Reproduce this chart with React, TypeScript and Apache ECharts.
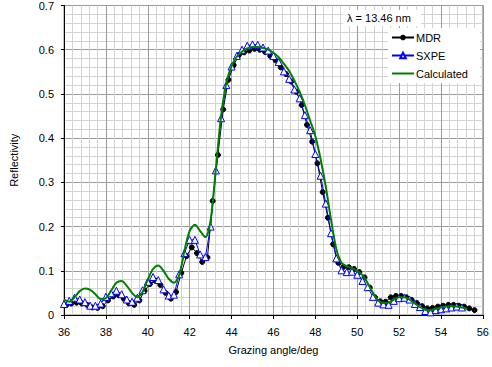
import React, { useEffect, useRef } from "react";
import * as echarts from "echarts";

// ---- Data ----
const X_TICKS_MIN = 36;
const X_TICKS_MAX = 56;
const Y_MAX = 0.7;

const SXPE_ANGLES = [
  36.0, 36.25, 36.5, 36.75, 37.0, 37.25, 37.5, 37.75, 38.0, 38.25, 38.5, 38.75, 39.0, 39.25, 39.5, 39.75,
  40.0, 40.25, 40.5, 40.75, 41.0, 41.25, 41.5, 41.75, 42.0, 42.25, 42.5, 42.75, 43.0, 43.25, 43.5, 43.75,
  44.0, 44.25, 44.5, 44.75, 45.0, 45.25, 45.5, 45.75, 46.0, 46.25, 46.5, 46.75, 47.0, 47.25, 47.5, 47.75,
  48.0, 48.25, 48.5, 48.75, 49.0, 49.25, 49.5, 49.75, 50.0, 50.25, 50.5, 50.75, 51.0, 51.25, 51.5, 51.75,
  52.0, 52.25, 52.5, 52.75, 53.0, 53.25, 53.5, 53.75, 54.0, 54.25, 54.5, 54.75, 55.0,
];
const SXPE_VALUES = [
  0.025, 0.032, 0.039, 0.035, 0.029, 0.021, 0.021, 0.026, 0.041, 0.049, 0.055, 0.047, 0.035, 0.030, 0.039, 0.056,
  0.075, 0.086, 0.079, 0.058, 0.044, 0.046, 0.092, 0.140, 0.170, 0.170, 0.137, 0.131, 0.200, 0.327, 0.445, 0.520,
  0.562, 0.586, 0.600, 0.609, 0.612, 0.611, 0.605, 0.598, 0.586, 0.572, 0.551, 0.534, 0.510, 0.490, 0.452, 0.418,
  0.364, 0.315, 0.252, 0.185, 0.128, 0.101, 0.097, 0.098, 0.091, 0.077, 0.063, 0.041, 0.028, 0.024, 0.023, 0.032,
  0.038, 0.039, 0.035, 0.025, 0.018, 0.009, 0.006, 0.011, 0.013, 0.015, 0.017, 0.019, 0.017,
];

const MDR_ANGLES = [
  36.1, 36.35, 36.6, 36.85, 37.1, 37.35, 37.6, 37.85, 38.1, 38.35, 38.6, 38.85, 39.1, 39.35, 39.6, 39.85,
  40.1, 40.35, 40.6, 40.85, 41.1, 41.35, 41.6, 41.85, 42.1, 42.35, 42.6, 42.85, 43.1, 43.35, 43.6, 43.85,
  44.1, 44.35, 44.6, 44.85, 45.1, 45.35, 45.6, 45.85, 46.1, 46.35, 46.6, 46.85, 47.1, 47.35, 47.6, 47.85,
  48.1, 48.35, 48.6, 48.85, 49.1, 49.35, 49.6, 49.85, 50.1, 50.35, 50.6, 50.85, 51.1, 51.35, 51.6, 51.85,
  52.1, 52.35, 52.6, 52.85, 53.1, 53.35, 53.6, 53.85, 54.1, 54.35, 54.6, 54.85, 55.1, 55.35, 55.6,
];
const MDR_VALUES = [
  0.022, 0.026, 0.028, 0.026, 0.023, 0.017, 0.016, 0.020, 0.033, 0.042, 0.045, 0.037, 0.026, 0.023, 0.033, 0.055,
  0.070, 0.078, 0.068, 0.050, 0.037, 0.052, 0.095, 0.133, 0.153, 0.140, 0.120, 0.130, 0.258, 0.362, 0.465, 0.532,
  0.565, 0.588, 0.594, 0.598, 0.602, 0.600, 0.595, 0.586, 0.576, 0.560, 0.545, 0.528, 0.505, 0.475, 0.430, 0.392,
  0.343, 0.278, 0.220, 0.160, 0.118, 0.109, 0.108, 0.104, 0.097, 0.085, 0.062, 0.040, 0.031, 0.030, 0.040, 0.043,
  0.043, 0.040, 0.034, 0.027, 0.020, 0.015, 0.016, 0.019, 0.021, 0.023, 0.023, 0.021, 0.019, 0.015, 0.011,
];

const CALC_ANGLES = [
  36.0, 36.25, 36.5, 36.75, 37.0, 37.25, 37.5, 37.75, 38.0, 38.25, 38.5, 38.75, 39.0, 39.25, 39.5, 39.75,
  40.0, 40.25, 40.5, 40.75, 41.0, 41.25, 41.5, 41.75, 42.0, 42.25, 42.5, 42.75, 43.0, 43.25, 43.5, 43.75,
  44.0, 44.25, 44.5, 44.75, 45.0, 45.25, 45.5, 45.75, 46.0, 46.25, 46.5, 46.75, 47.0, 47.25, 47.5, 47.75,
  48.0, 48.25, 48.5, 48.75, 49.0, 49.25, 49.5, 49.75, 50.0, 50.25, 50.5, 50.75, 51.0, 51.25, 51.5, 51.75,
  52.0, 52.25, 52.5, 52.75, 53.0, 53.25, 53.5, 53.75, 54.0, 54.25, 54.5, 54.75, 55.0, 55.25,
];
const CALC_VALUES = [
  0.035, 0.030, 0.040, 0.054, 0.060, 0.057, 0.047, 0.036, 0.038, 0.055, 0.073, 0.077, 0.066, 0.050, 0.040, 0.052,
  0.080, 0.104, 0.112, 0.100, 0.082, 0.073, 0.090, 0.145, 0.190, 0.204, 0.190, 0.176, 0.214, 0.330, 0.450, 0.525,
  0.563, 0.584, 0.596, 0.603, 0.606, 0.606, 0.604, 0.600, 0.593, 0.583, 0.568, 0.552, 0.530, 0.505, 0.475, 0.440,
  0.405, 0.353, 0.290, 0.215, 0.150, 0.118, 0.110, 0.106, 0.100, 0.090, 0.072, 0.050, 0.033, 0.027, 0.028, 0.035,
  0.040, 0.040, 0.035, 0.026, 0.018, 0.012, 0.011, 0.014, 0.017, 0.019, 0.020, 0.019, 0.017, 0.014,
];

const SERIES_NAMES = ["MDR", "SXPE", "Calculated"];
const WAVELENGTH_LABEL = "λ = 13.46 nm";

const pair = (xs: number[], ys: number[]) => xs.map((x, i) => [x, ys[i]]);

const FONT = "'Liberation Sans', Arial, sans-serif";

export default function App() {
  const ref = useRef<HTMLDivElement>(null);

  useEffect(() => {
    document.body.style.margin = "0";
    if (!ref.current) return;
    const chart = echarts.init(ref.current, undefined, { renderer: "svg" });
    chart.setOption({
      animation: false,
      backgroundColor: "#ffffff",
      textStyle: { fontFamily: FONT },
      grid: {
        left: 59,
        right: 6,
        top: 5,
        bottom: 52,
        show: true,
        borderColor: "#808080",
        borderWidth: 1,
      },
      xAxis: {
        type: "value",
        min: X_TICKS_MIN,
        max: X_TICKS_MAX,
        interval: 2,
        name: "Grazing angle/deg",
        nameLocation: "middle",
        nameGap: 29,
        nameTextStyle: { fontSize: 11, color: "#000", fontFamily: FONT },
        axisLine: { show: true, lineStyle: { color: "#000", width: 1 } },
        axisTick: { show: true, length: 4, lineStyle: { color: "#000" } },
        axisLabel: { fontSize: 11, color: "#000", margin: 11, fontFamily: FONT },
        splitLine: { show: true, lineStyle: { color: "#9a9a9a", width: 1 } },
        minorTick: { show: false, splitNumber: 5 },
        minorSplitLine: { show: true, lineStyle: { color: "#d4d4d4", width: 1 } },
      },
      yAxis: {
        type: "value",
        min: 0,
        max: Y_MAX,
        interval: 0.1,
        name: "Reflectivity",
        nameLocation: "middle",
        nameGap: 45,
        nameTextStyle: { fontSize: 11, color: "#000", fontFamily: FONT },
        axisLine: { show: true, lineStyle: { color: "#000", width: 1 } },
        axisTick: { show: true, length: 3, lineStyle: { color: "#000" } },
        axisLabel: {
          fontSize: 11,
          color: "#000",
          margin: 10,
          fontFamily: FONT,
          formatter: (v: number) => (v === 0 ? "0" : v.toFixed(1)),
        },
        splitLine: { show: true, lineStyle: { color: "#9a9a9a", width: 1 } },
        minorTick: { show: false, splitNumber: 5 },
        minorSplitLine: { show: true, lineStyle: { color: "#d4d4d4", width: 1 } },
      },
      legend: {
        data: [
          { name: SERIES_NAMES[0] },
          { name: SERIES_NAMES[1] },
          { name: SERIES_NAMES[2], itemStyle: { opacity: 0 } },
        ],
        orient: "vertical",
        left: 388,
        top: 28,
        itemWidth: 22,
        itemHeight: 7,
        itemGap: 7,
        padding: [4, 12, 4, 3],
        backgroundColor: "#ffffff",
        textStyle: { fontSize: 11, color: "#000", fontFamily: FONT, padding: [0, 0, 0, -3] },
      },
      graphic: [
        {
          type: "rect",
          shape: { x: 343, y: 10, width: 78, height: 16 },
          style: { fill: "#ffffff" },
          z: 10,
        },
        {
          type: "text",
          x: 347,
          y: 18,
          z: 11,
          style: {
            text: WAVELENGTH_LABEL,
            fontSize: 11,
            fontFamily: FONT,
            fill: "#000",
            verticalAlign: "middle",
          },
        },
      ],
      series: [
        {
          name: "MDR",
          type: "line",
          data: pair(MDR_ANGLES, MDR_VALUES),
          symbol: "circle",
          symbolSize: 5,
          lineStyle: { color: "#000", width: 1 },
          itemStyle: { color: "#000", borderColor: "#000" },
          z: 2,
        },
        {
          name: "SXPE",
          type: "line",
          data: pair(SXPE_ANGLES, SXPE_VALUES),
          symbol: "triangle",
          symbolSize: 7,
          lineStyle: { color: "#0000ff", width: 1 },
          itemStyle: { color: "#ffffff", borderColor: "#0000ff", borderWidth: 1 },
          z: 3,
        },
        {
          name: "Calculated",
          type: "line",
          data: pair(CALC_ANGLES, CALC_VALUES),
          symbol: "none",
          smooth: 0.3,
          lineStyle: { color: "#008000", width: 2 },
          itemStyle: { color: "#008000" },
          z: 4,
        },
      ],
    });
    return () => chart.dispose();
  }, []);

  return <div ref={ref} style={{ width: 492, height: 367 }} />;
}
